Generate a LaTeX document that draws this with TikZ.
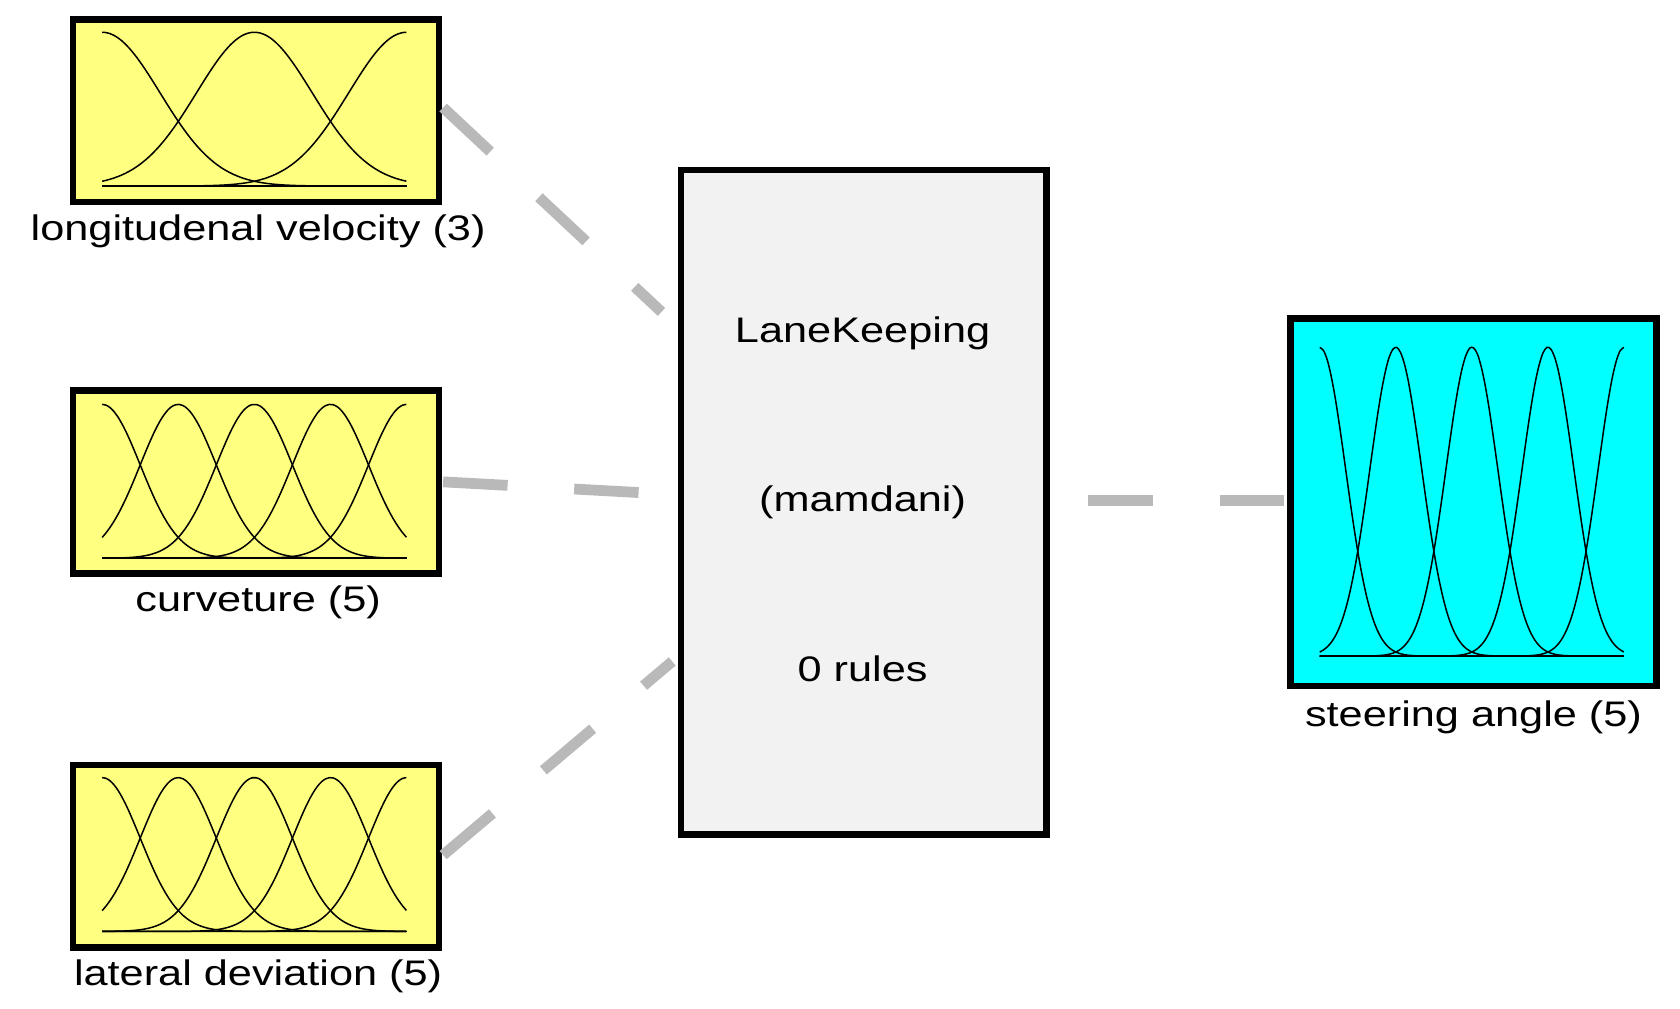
\documentclass[tikz,border=0pt]{standalone}
\usepackage{fontspec}
\setmainfont{Liberation Sans}
\definecolor{mfyellow}{RGB}{255,255,128}
\definecolor{aqua}{RGB}{0,255,255}
\newcommand{\wtxt}[1]{\scalebox{1.22}[1]{#1}}
\begin{document}
\begin{tikzpicture}[x=1pt,y=-1pt,
  mf/.style={draw=black,line width=6pt,fill=mfyellow,minimum width=340pt,minimum height=170pt,inner sep=0pt,anchor=north west},
  lbl/.style={font=\fontsize{33}{35}\selectfont},
  conn/.style={draw=gray!55,line width=10pt,dash pattern=on 60pt off 62pt}]
\useasboundingbox (0,0) rectangle (1562,938);
\node[mf] (lv) at (65,15) {};
\node[mf] (cu) at (65,360) {};
\node[mf] (ld) at (65,708) {};
\node[draw=black,line width=6pt,fill=gray!10,minimum width=340pt,minimum height=618pt,anchor=north west] (le) at (630,155) {};
\node[draw=black,line width=6pt,fill=aqua,minimum width=340pt,minimum height=342pt,inner sep=0pt,anchor=north west] (sa) at (1197,293) {};
\newcommand{\mfplot}[6]{% x0 w base h sigma centers
  \draw[line width=1.4pt] (#1,#3) -- ++(#2,0);
  \foreach \c in {#6}{
    \draw[line width=1.4pt,domain=0:1,samples=80,smooth] plot ({#1+#2*\x},{#3-#4*exp(-((\x-\c)*(\x-\c))/(2*#5*#5))});}}
\mfplot{95}{283}{173}{143}{0.19}{0,0.5,1}
\mfplot{95}{283}{519}{143}{0.125}{0,0.25,0.5,0.75,1}
\mfplot{95}{283}{866}{143}{0.125}{0,0.25,0.5,0.75,1}
\mfplot{1227}{283}{610}{287}{0.085}{0,0.25,0.5,0.75,1}
\node[lbl] (t1) at (240,215) {\wtxt{longitudenal velocity (3)}};
\node[lbl] (t2) at (240,560) {\wtxt{curveture (5)}};
\node[lbl] (t3) at (240,908) {\wtxt{lateral deviation (5)}};
\node[lbl] (t4) at (1370,667) {\wtxt{steering angle (5)}};
\node[lbl] (m1) at (802,310) {\wtxt{LaneKeeping}};
\node[lbl] (m2) at (802,467) {\wtxt{(mamdani)}};
\node[lbl] (m3) at (802,622) {\wtxt{0 rules}};
\coordinate (a1) at (412,100); \coordinate (b1) at (615,290);
\coordinate (a2) at (412,448); \coordinate (b2) at (595,458);
\coordinate (a3) at (412,795); \coordinate (b3) at (625,615);
\coordinate (a4) at (1012,465); \coordinate (b4) at (1195,465);
\draw[conn] (a1) -- (b1);
\draw[conn] (a2) -- (b2);
\draw[conn] (a3) -- (b3);
\draw[conn] (a4) -- (b4);
\end{tikzpicture}
\end{document}
